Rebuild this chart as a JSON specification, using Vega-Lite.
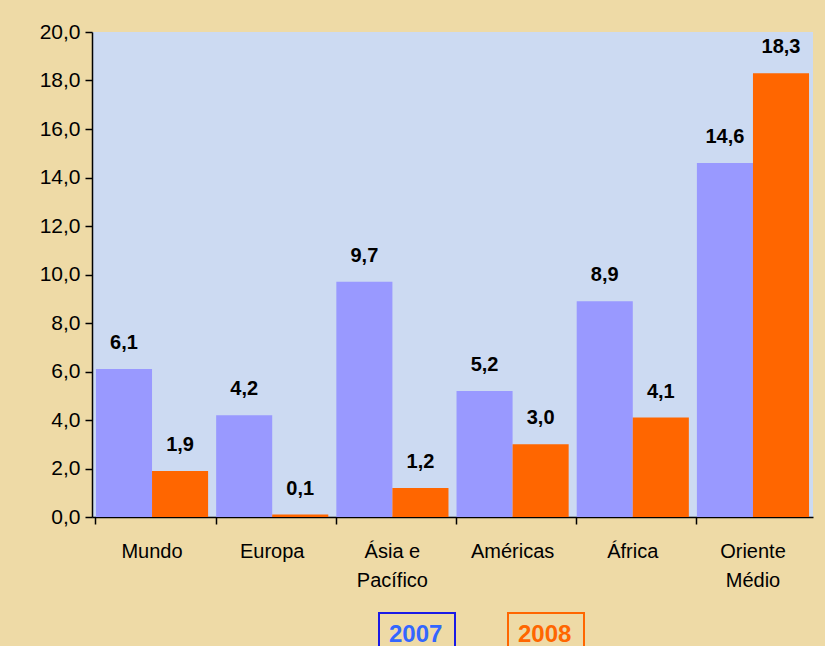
{
  "$schema": "https://vega.github.io/schema/vega-lite/v6.json",
  "autosize": {"type": "none"},
  "width": 721,
  "height": 485,
  "padding": {"left": 92, "top": 32, "right": 12, "bottom": 129},
  "background": "#EEDAA6",
  "config": {
    "font": "Liberation Sans",
    "view": {"fill": "#CCDAF2", "stroke": null},
    "locale": {"number": {"decimal": ",", "thousands": ".", "grouping": [3], "currency": ["", ""]}}
  },
  "data": {
    "values": [
      {"regiao": "Mundo", "ano": "2007", "valor": 6.1},
      {"regiao": "Mundo", "ano": "2008", "valor": 1.9},
      {"regiao": "Europa", "ano": "2007", "valor": 4.2},
      {"regiao": "Europa", "ano": "2008", "valor": 0.1},
      {"regiao": "Ásia e Pacífico", "ano": "2007", "valor": 9.7},
      {"regiao": "Ásia e Pacífico", "ano": "2008", "valor": 1.2},
      {"regiao": "Américas", "ano": "2007", "valor": 5.2},
      {"regiao": "Américas", "ano": "2008", "valor": 3.0},
      {"regiao": "África", "ano": "2007", "valor": 8.9},
      {"regiao": "África", "ano": "2008", "valor": 4.1},
      {"regiao": "Oriente Médio", "ano": "2007", "valor": 14.6},
      {"regiao": "Oriente Médio", "ano": "2008", "valor": 18.3}
    ]
  },
  "encoding": {
    "x": {
      "field": "regiao",
      "type": "nominal",
      "sort": null,
      "scale": {"paddingInner": 0.067, "paddingOuter": 0.033},
      "axis": {
        "title": null,
        "labelAngle": 0,
        "labelFontSize": 20,
        "labelColor": "#000000",
        "labelPadding": 17,
        "labelLineHeight": 29,
        "labelBaseline": "top",
        "labelExpr": "datum.label == 'Ásia e Pacífico' ? ['Ásia e', 'Pacífico'] : datum.label == 'Oriente Médio' ? ['Oriente', 'Médio'] : datum.label",
        "bandPosition": 0,
        "domainColor": "#000000",
        "domainWidth": 1.5,
        "tickColor": "#000000",
        "tickWidth": 1.5,
        "tickSize": 7
      }
    },
    "xOffset": {"field": "ano", "type": "nominal", "scale": {"paddingInner": 0, "paddingOuter": 0}},
    "y": {
      "field": "valor",
      "type": "quantitative",
      "scale": {"domain": [0, 20], "nice": false},
      "axis": {
        "title": null,
        "values": [0, 2, 4, 6, 8, 10, 12, 14, 16, 18, 20],
        "grid": false,
        "format": ".1f",
        "labelFontSize": 21,
        "labelColor": "#000000",
        "labelPadding": 5,
        "domainColor": "#000000",
        "domainWidth": 1.5,
        "tickColor": "#000000",
        "tickWidth": 1.5,
        "tickSize": 7
      }
    }
  },
  "layer": [
    {
      "mark": {"type": "bar"},
      "encoding": {
        "color": {
          "field": "ano",
          "type": "nominal",
          "scale": {"domain": ["2007", "2008"], "range": ["#9999FF", "#FF6600"]},
          "legend": {
            "title": null,
            "orient": "none",
            "legendX": 285,
            "legendY": 587,
            "direction": "horizontal",
            "columns": 2,
            "columnPadding": 45,
            "symbolType": "M-1,-1.8H6.6V2.2H-1Z",
            "symbolSize": 400,
            "symbolFillColor": "transparent",
            "symbolOpacity": 1,
            "symbolStrokeWidth": 2,
            "labelOffset": -12,
            "labelFontSize": 24,
            "labelFontWeight": "bold",
            "encode": {
              "symbols": {
                "update": {
                  "fill": {"value": "transparent"},
                  "fillOpacity": {"value": 0},
                  "stroke": {"signal": "datum.value == '2007' ? '#1A1AE6' : '#FF6600'"},
                  "strokeWidth": {"value": 2}
                }
              },
              "labels": {
                "update": {
                  "fill": {"signal": "datum.value == '2007' ? '#3366FF' : '#FF6600'"},
                  "dy": {"value": 4}
                }
              }
            }
          }
        }
      }
    },
    {
      "mark": {"type": "text", "baseline": "bottom", "dy": -16, "fontSize": 20, "fontWeight": "bold", "color": "#000000"},
      "encoding": {
        "text": {"field": "valor", "type": "quantitative", "format": ".1f"}
      }
    }
  ]
}
